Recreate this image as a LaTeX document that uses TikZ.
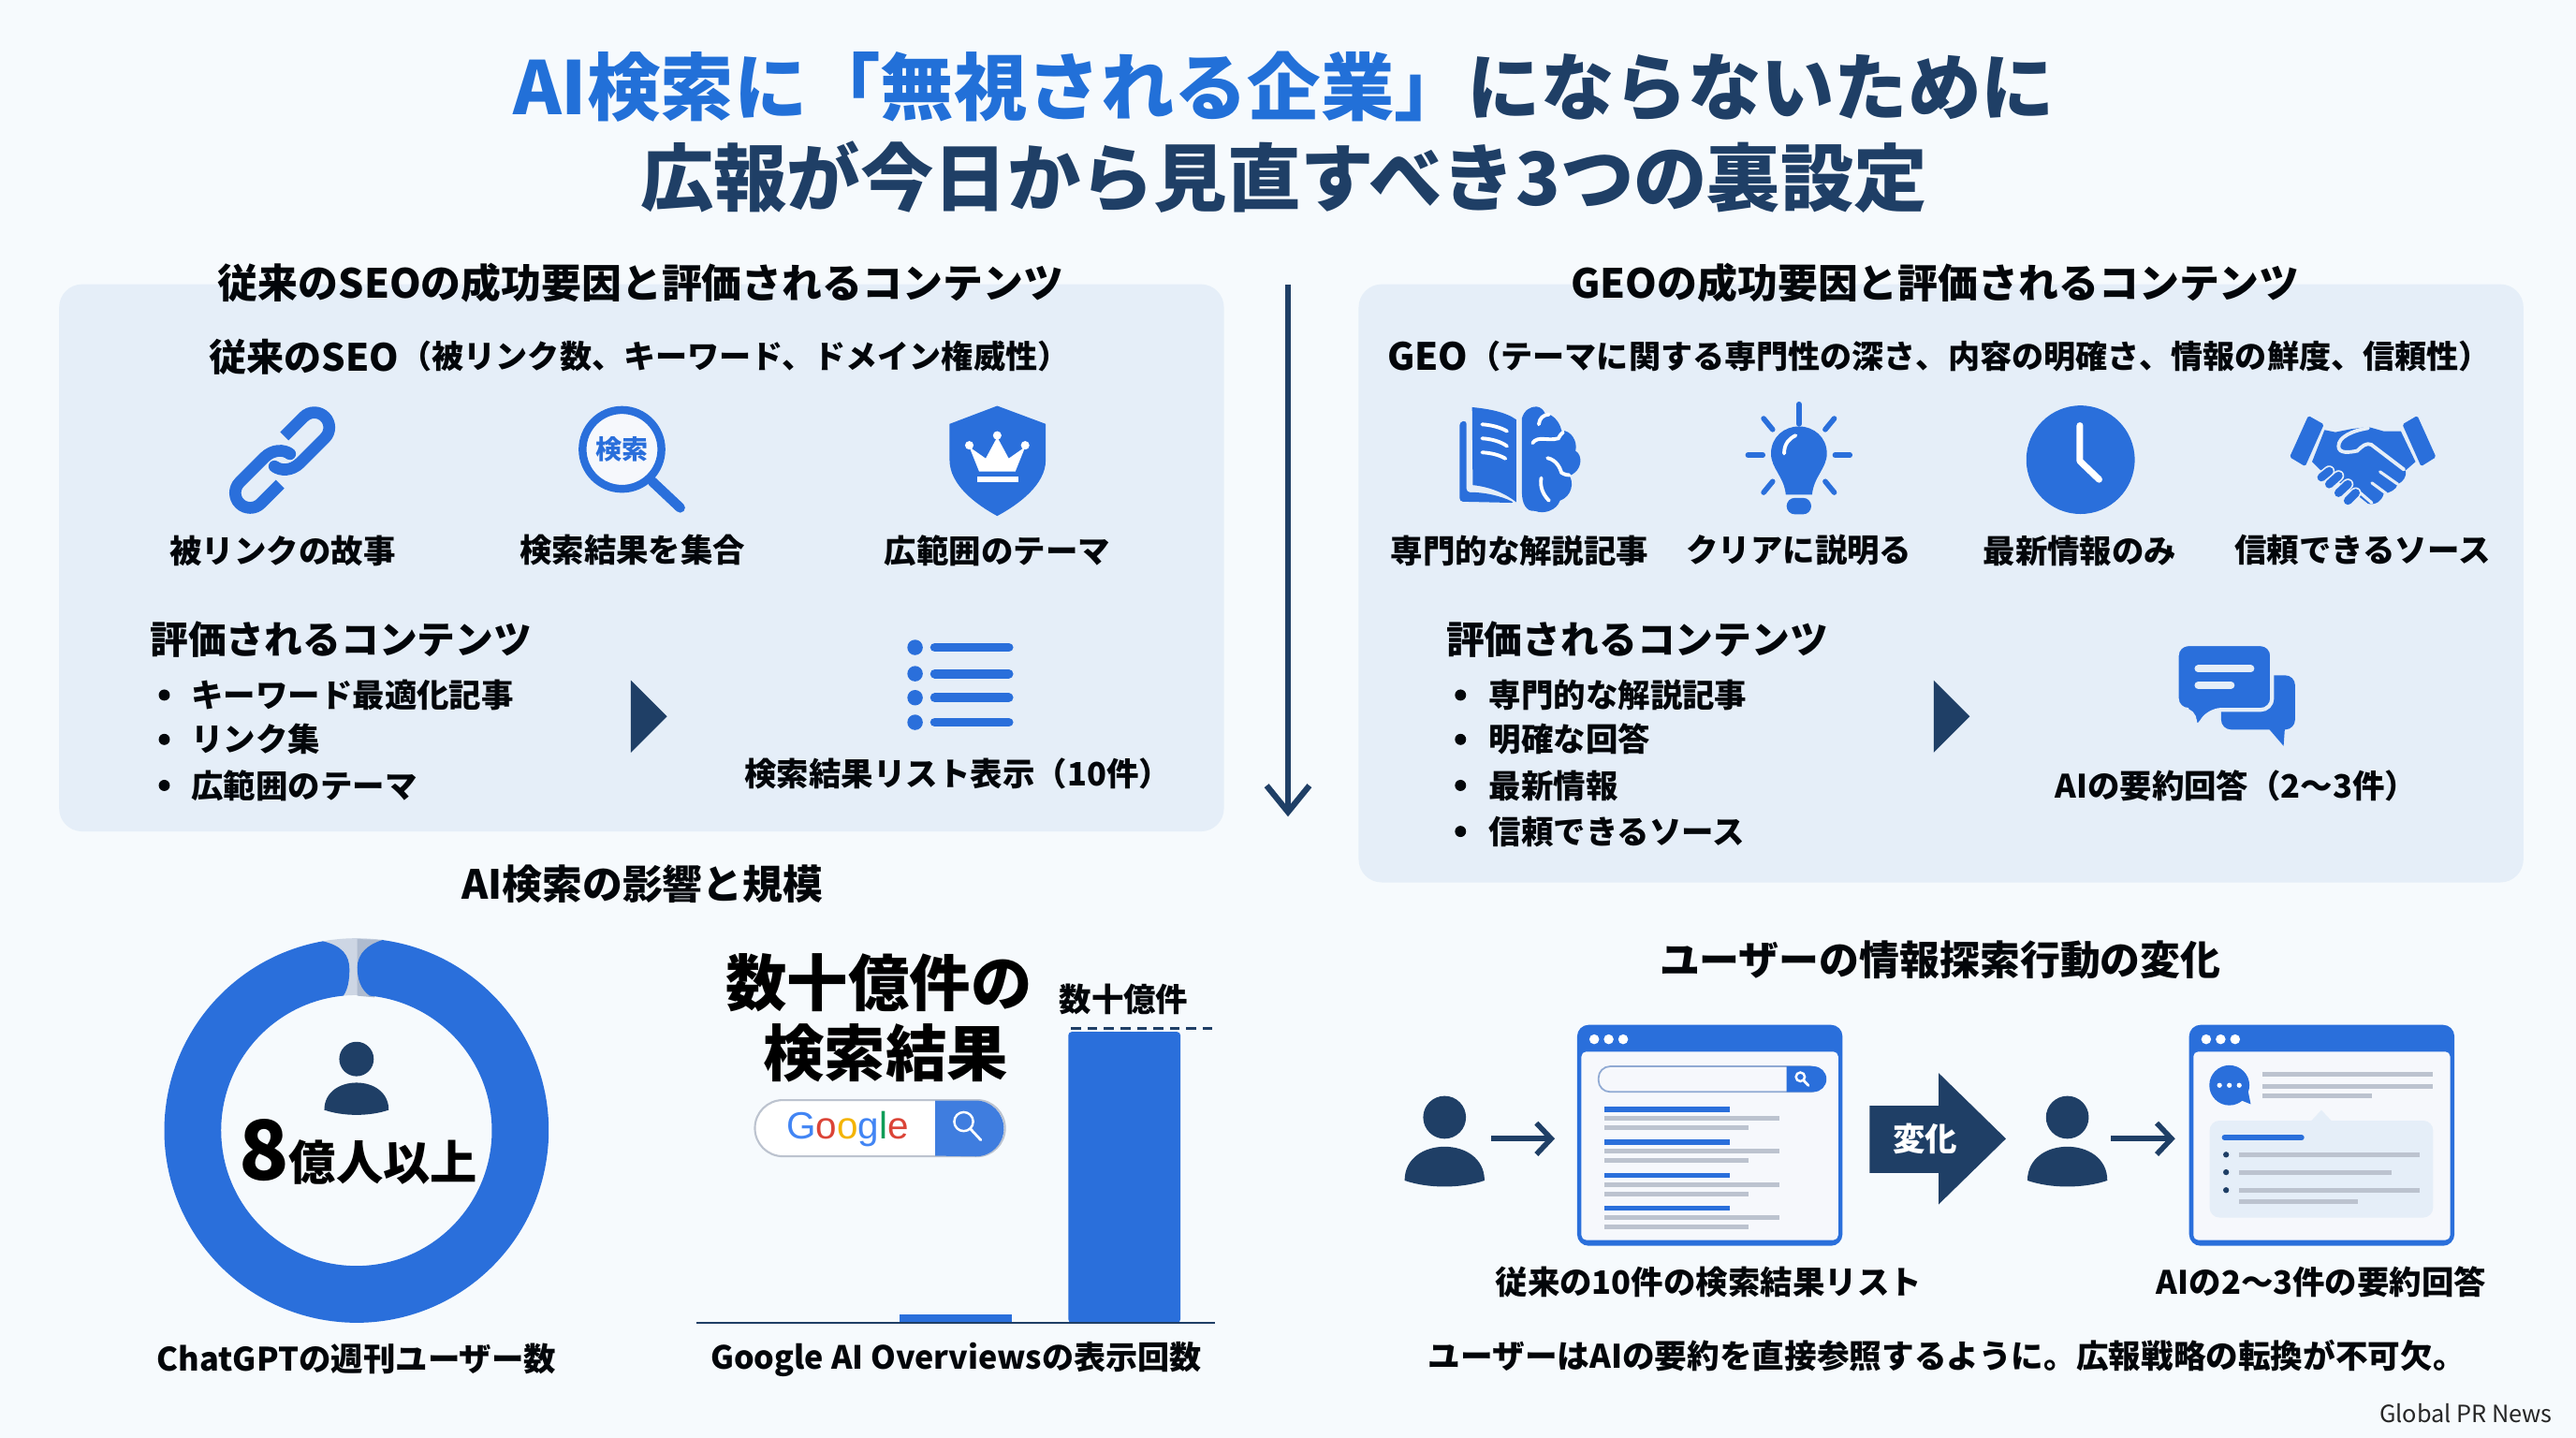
\documentclass[tikz,border=0pt]{standalone}
\usepackage{fontspec}
\setmainfont{Noto Sans CJK JP}
\newfontfamily\googlefont{Liberation Sans}
\usetikzlibrary{arrows.meta}
\definecolor{bluec}{HTML}{2A6FDB}
\definecolor{titleblue}{HTML}{2270D8}
\definecolor{navyc}{HTML}{1F3F66}
\definecolor{panelc}{HTML}{E5EEF8}
\definecolor{pagec}{HTML}{F6F8FC}
\definecolor{grayc}{HTML}{BCC3CF}
\definecolor{gapc}{HTML}{CDD6E4}
\definecolor{gapd}{HTML}{AEBBCF}
\definecolor{bgc}{HTML}{F6FAFD}

\tikzset{
  personpic/.pic={
    \fill [navyc] (0,0) circle (10.5);
    \fill [navyc] (-19.6,31) .. controls (-19.6,20) and (-10,14.4) .. (0,14.4)
      .. controls (10,14.4) and (19.6,20) .. (19.6,31)
      .. controls (8,35) and (-8,35) .. cycle;
  },
  lenspic/.pic={
    \draw [white, line width=0.7] (-1.5,-1.5) circle (3.6);
    \draw [white, line width=0.8, line cap=round] (1,1.2)--(5,5.5);
  },
  pagepic/.pic={
    \fill [bluec, rounded corners=3.5] (0,0) rectangle (161.5,134.5);
    \fill [pagec, rounded corners=1.5] (2.6,16.3) rectangle (158.9,131);
    \foreach \x in {10.4,19.2,28}
      \fill [white] (\x,8.8) circle (3);
  }
}

\begin{document}
\begin{tikzpicture}[x=0.017551cm, y=-0.017554cm,
  ttl/.style={font=\bfseries\fontsize{22.3}{26}\selectfont, navyc, inner sep=0},
  hd/.style={font=\bfseries\fontsize{12.2}{15}\selectfont, black!90!navyc, inner sep=0},
  lb/.style={font=\bfseries\fontsize{9.8}{12}\selectfont, black!90!navyc, inner sep=0},
  lft/.style={anchor=west},
  zoomed/.style={x=0.003334cm, y=-0.003334cm},
  linkst/.style={draw=bluec, line width=3.6},
  whiteln/.style={draw=white, line width=1.1, line cap=round},
  cutln/.style={draw=panelc, line width=0.9, line cap=round},
  graybar/.style={draw=grayc, line width=1.4},
  bluebar/.style={draw=bluec, line width=1.6},
  thinarrow/.style={draw=navyc, line width=1.6, -{Straight Barb[length=4.5,width=9.5]}},
  tri/.style={fill=navyc}]

\useasboundingbox (0,0) rectangle (1568,875);
\fill [bgc] (0,0) rectangle (1568,875);

% title
\node [ttl] (t1) at (781.5,53) {\textcolor{titleblue}{AI検索に「無視される企業」}にならないために};
\node [ttl] (t2) at (781.5,108) {広報が今日から見直すべき3つの裏設定};

% panels
\fill [panelc, rounded corners=7] (36,173) rectangle (745,506);
\fill [panelc, rounded corners=7] (827,173) rectangle (1536,537);

% divider
\coordinate (V1) at (784,173);
\coordinate (V2) at (784,497);
\draw [navyc, line width=1.8, -{Straight Barb[length=8,width=13]}] (V1)--(V2);

% left panel
\node [hd] (h1) at (390,172) {従来のSEOの成功要因と評価されるコンテンツ};
\node [hd, lft, font=\bfseries\fontsize{11.4}{14}\selectfont] (s1) at (127,217) {従来のSEO};
\node [lb, lft, font=\bfseries\fontsize{9.7}{12}\selectfont] (s1b) at (s1.east) {（被リンク数、キーワード、ドメイン権威性）};

% link icon
\begin{scope}[shift={(131.05,239.3)}, zoomed]
\draw [linkst] (222,138)--(284,76) arc [start angle=-135,end angle=45,radius=48]
  --(272,224) .. controls (245,250) and (210,250) .. (190,235);
\fill [bluec] (190,235) circle (19);
\draw [linkst] (208,292)--(146,354) arc [start angle=45,end angle=225,radius=48]
  --(158,206) .. controls (185,180) and (220,180) .. (240,195);
\fill [bluec] (240,195) circle (19);
\end{scope}

% search icon
\fill [pagec] (378.6,273.5) circle (24);
\draw [bluec, line width=2.4] (378.6,273.5) circle (24);
\draw [bluec, line width=3, line cap=round] (397,293)--(414,309);
\node [font=\bfseries\fontsize{8}{10}\selectfont, bluec, inner sep=0] (srch) at (378.6,273.5) {検索};

% shield icon
\fill [bluec] (607,247)--(636.5,258)--(636.5,280) .. controls (636.5,295) and (620,307) .. (607,314)
  .. controls (594,307) and (578,295) .. (578,280)--(578,258)--cycle;
\fill [white] (596,287)--(618,287)--(624,272)--(614,279)--(607,266)--(600,279)--(590,272)--cycle;
\foreach \a/\b in {590/271,607/265,624/271}
  \fill [white] (\a,\b) circle (2.6);
\fill [white] (595,290) rectangle (620,293.5);

\node [lb] (l1) at (172,335) {被リンクの故事};
\node [lb] (l2) at (385,335) {検索結果を集合};
\node [lb] (l3) at (607,335) {広範囲のテーマ};

\node [hd, lft, font=\bfseries\fontsize{11.6}{14}\selectfont] (e1) at (91,389) {評価されるコンテンツ};
\foreach \y/\t/\n in {423/キーワード最適化記事/a,450/リンク集/b,478/広範囲のテーマ/c}{
  \fill [black!90!navyc] (100,\y) circle (3.4);
  \node [lb, lft] (e1\n) at (116,\y) {\t};
}
\fill [tri] (384,414)--(406,436)--(384,458)--cycle;

% list icon
\foreach \y in {394,410,424.6,439.6}{
  \fill [bluec] (557,\y) circle (4.7);
  \draw [bluec, line width=2.8, line cap=round] (569,\y)--(614,\y);
}
\node [lb] (l4) at (583,471) {検索結果リスト表示（10件）};

% right panel
\node [hd] (h2) at (1178,172) {GEOの成功要因と評価されるコンテンツ};
\node [hd, lft, font=\bfseries\fontsize{11.4}{14}\selectfont] (s2) at (844,217) {GEO};
\node [lb, lft, font=\bfseries\fontsize{9.7}{12}\selectfont] (s2b) at (s2.east) {（テーマに関する専門性の深さ、内容の明確さ、情報の鮮度、信頼性）};

% book and brain icon
\begin{scope}[shift={(877.5,239.3)}, zoomed]
\fill [bluec] (98,45) .. controls (150,50) and (205,60) .. (240,85)--(240,350)
  .. controls (200,318) and (150,300) .. (100,295)--cycle;
\fill [bluec, rounded corners=1] (58,92)--(80,88)--(80,318) .. controls (140,318) and (190,330) .. (235,352)--(58,348)--cycle;
\draw [whiteln] (130,100) .. controls (160,102) and (190,110) .. (210,122);
\draw [whiteln] (130,145) .. controls (160,147) and (190,155) .. (210,170);
\draw [whiteln] (130,190) .. controls (160,192) and (185,198) .. (205,210);
\fill [bluec] (258,80) .. controls (265,55) and (285,42) .. (305,43) .. controls (320,45) and (328,55) .. (332,65)
  .. controls (350,65) and (378,85) .. (385,120) .. controls (415,118) and (438,155) .. (430,185)
  .. controls (455,200) and (452,250) .. (410,265) .. controls (425,285) and (420,330) .. (380,345)
  .. controls (370,375) and (330,390) .. (300,378) .. controls (270,382) and (258,350) .. (258,320)--cycle;
\draw [whiteln] (312,100) .. controls (315,80) and (325,70) .. (345,68);
\draw [whiteln] (292,160) .. controls (310,135) and (340,155) .. (375,145) .. controls (380,135) and (385,130) .. (390,125);
\draw [whiteln] (340,208) .. controls (370,215) and (380,240) .. (385,255) .. controls (395,262) and (405,263) .. (410,263);
\draw [whiteln] (320,272) .. controls (315,300) and (325,325) .. (345,345);
\end{scope}

% bulb icon
\fill [bluec] (1087,301) .. controls (1086,290) and (1078,285) .. (1078,276)
  .. controls (1078,266) and (1086,259.5) .. (1095,259.5)
  .. controls (1104,259.5) and (1112,266) .. (1112,276)
  .. controls (1112,285) and (1104,290) .. (1103,301)--cycle;
\fill [bluec, rounded corners=2.5] (1087.5,303) rectangle (1102.5,313);
\draw [whiteln] (1086,276) .. controls (1086,270) and (1089,267) .. (1093,265);
\foreach \a/\b/\c/\d in {1095/246/1095/258,1073.5/254.7/1079/261.4,1116.5/254.7/1111/261.4,1064/277/1073/277,1126/277/1117/277,1073.5/299.7/1079/293,1116.5/299.7/1111/293}
  \draw [bluec, line width=1.6, line cap=round] (\a,\b)--(\c,\d);

% clock icon
\fill [bluec] (1266.4,279.8) circle (33);
\draw [white, line width=2, line cap=round, line join=round] (1266,259)--(1266,280.6)--(1277.7,291.8);

% handshake icon
\begin{scope}[shift={(1384.6,245)}, zoomed]
\fill [bluec, rounded corners=0.5] (108,42)--(158,70)--(98,205)--(48,175)--cycle;
\fill [bluec, rounded corners=0.5] (458,42)--(410,70)--(470,205)--(518,175)--cycle;
\fill [bluec] (160,88)--(195,95)--(245,85)--(300,78)--(350,92)--(405,92)--(452,190)--(420,218)
  .. controls (425,240) and (410,255) .. (395,262) .. controls (390,280) and (370,290) .. (350,292)
  .. controls (345,315) and (325,330) .. (300,325)--(250,285)--(145,215)--(120,190)--cycle;
\draw [panelc, line width=1.1, line cap=round] (300,82) .. controls (250,90) and (205,110) .. (205,140)
  .. controls (205,165) and (240,160) .. (265,155) .. controls (280,140) and (295,128) .. (310,135)--(415,215);
\draw [cutln] (338,222)--(395,262);
\draw [cutln] (312,258)--(358,292);
\draw [cutln] (275,290)--(312,322);
\foreach \a/\b/\c/\d in {150/240/175/220,175/262/205/235,205/290/235/262,235/315/260/290}{
  \draw [panelc, line width=3.4, line cap=round] (\a,\b)--(\c,\d);
  \draw [bluec, line width=2.5, line cap=round] (\a,\b)--(\c,\d);
}
\end{scope}

\node [lb] (r1) at (925,335) {専門的な解説記事};
\node [lb] (r2) at (1095,335) {クリアに説明る};
\node [lb] (r3) at (1266,335) {最新情報のみ};
\node [lb] (r4) at (1438,335) {信頼できるソース};

\node [hd, lft, font=\bfseries\fontsize{11.6}{14}\selectfont] (e2) at (880,389) {評価されるコンテンツ};
\foreach \y/\t/\n in {423/専門的な解説記事/a,450/明確な回答/b,478/最新情報/c,506/信頼できるソース/d}{
  \fill [black!90!navyc] (889,\y) circle (3.4);
  \node [lb, lft] (e2\n) at (906,\y) {\t};
}
\fill [tri] (1177,414)--(1199,436)--(1177,458)--cycle;

% chat icon
\fill [bluec, rounded corners=3] (1352,411) rectangle (1397,444);
\fill [bluec] (1378,440)--(1390,454)--(1391,440)--cycle;
\draw [panelc, line width=1.2, fill=bluec, rounded corners=3.5] (1325,392)--(1383,392)--(1383,432)--(1345,432)--(1336,445)--(1336,432)--(1325,432)--cycle;
\draw [panelc, line width=2.2, line cap=round] (1338,407)--(1370,407);
\draw [panelc, line width=2.2, line cap=round] (1338,417)--(1358,417);
\node [lb] (r5) at (1361,478) {AIの要約回答（2〜3件）};

% lower left
\node [hd] (h3) at (391,538) {AI検索の影響と規模};
\begin{scope}[shift={(217,688)}]
\fill [gapc] (-100.1:117) arc [start angle=-100.1,end angle=-82.2,radius=117]
  --(-84.4:82.4) arc [start angle=-84.4,end angle=-95.6,radius=82.4]--cycle;
\fill [gapd] (0.5,-116.5)--(16,-116)--(11,-81)--(0.5,-82)--cycle;
\fill [bluec] (-82.2:117) arc [start angle=-82.2,end angle=259.9,radius=117]
  .. controls (-9,-112.5) and (-4.3,-106.8) .. (-4.3,-98.2)
  .. controls (-4.3,-91.6) and (-5.2,-85.9) .. (264.4:82.4)
  arc [start angle=264.4,end angle=-84.4,radius=82.4]
  .. controls (2.4,-85.9) and (0.5,-92.5) .. (0.5,-99.2)
  .. controls (0.5,-107.7) and (7.1,-113.4) .. cycle;
\end{scope}
\pic at (217,644.5) {personpic};
\node [font=\bfseries\fontsize{14.3}{17}\selectfont, inner sep=0, black] (d1) at (218,701)
  {\fontsize{25}{28}\selectfont 8\fontsize{14.3}{17}\selectfont 億人以上};
\node [lb] (d2) at (217,827) {ChatGPTの週刊ユーザー数};

\node [font=\bfseries\fontsize{18.6}{22}\selectfont, black, inner sep=0] (b1) at (535,598) {数十億件の};
\node [font=\bfseries\fontsize{18.6}{22}\selectfont, black, inner sep=0] (b2) at (539,641) {検索結果};

% google bar
\draw [grayc, fill=white, line width=0.6, rounded corners=8.5] (459.5,669.5) rectangle (611.7,703.7);
\fill [bluec!90!white] (569.3,669.8)--(594,669.8) arc [start angle=-90,end angle=90,radius=17]--(569.3,703.4)--cycle;
\pic [scale=1.6] at (589,685) {lenspic};
\node [font=\googlefont\fontsize{11.5}{14}\selectfont, inner sep=0] (g1) at (516,687)
  {\textcolor[HTML]{4285F4}{G}\textcolor[HTML]{DB4437}{o}\textcolor[HTML]{F4B400}{o}\textcolor[HTML]{4285F4}{g}\textcolor[HTML]{0F9D58}{l}\textcolor[HTML]{DB4437}{e}};

% bars
\fill [bluec] (547.6,800.2) rectangle (616,805);
\fill [bluec, rounded corners=1] (650.3,628) rectangle (718.5,805);
\coordinate (B1) at (424,805);
\coordinate (B2) at (739.7,805);
\coordinate (B3) at (652,626);
\coordinate (B4) at (741,626);
\draw [navyc, line width=0.7] (B1)--(B2);
\draw [navyc, line width=0.7, densely dashed] (B3)--(B4);
\node [lb] (b3) at (684,608) {数十億件};
\node [lb, font=\bfseries\fontsize{9.7}{12}\selectfont] (b4) at (582,827) {Google AI Overviewsの表示回数};

% lower right
\node [hd] (h4) at (1181,584) {ユーザーの情報探索行動の変化};
\pic [scale=1.24] at (879.3,680) {personpic};
\pic [scale=1.24] at (1258.4,680) {personpic};
\coordinate (U1) at (907.7,693);
\coordinate (U2) at (946.4,693);
\coordinate (U3) at (1285,693);
\coordinate (U4) at (1324,693);
\draw [thinarrow] (U1)--(U2);
\draw [thinarrow] (U3)--(U4);

% result page
\pic at (960,623.7) {pagepic};
\draw [grayc!70!bluec, fill=pagec, line width=0.5, rounded corners=3.5] (973,649) rectangle (1109,664.5);
\fill [bluec] (1087.5,649)--(1104,649) arc [start angle=-90,end angle=90,radius=7.75]--(1087.5,664.5)--cycle;
\pic [scale=0.75] at (1097,656.5) {lenspic};
\foreach \y in {675,695,715.3,735.3}{
  \draw [bluebar] (976.5,\y)--(1053,\y);
  \draw [graybar] (976.5,\y+5.6)--(1083,\y+5.6);
  \draw [graybar] (976.5,\y+11.2)--(1064.6,\y+11.2);
}

% change arrow
\fill [navyc] (1138,673)--(1180,673)--(1180,653)--(1221,693)--(1180,733)--(1180,713.8)--(1138,713.8)--cycle;
\node [lb, white] (c1) at (1172,693) {変化};

% summary page
\pic at (1332.5,623.7) {pagepic};
\fill [bluec] (1357,660.5) circle (12.2);
\fill [bluec] (1360,668)--(1370,672)--(1368,662)--cycle;
\foreach \x in {1351,1357,1363}
  \fill [white] (\x,660.5) circle (1.5);
\draw [graybar] (1377,654)--(1481,654);
\draw [graybar] (1377,661)--(1481,661);
\draw [graybar] (1377,667)--(1444,667);
\fill [panelc, rounded corners=3] (1345,682) rectangle (1481,741);
\fill [panelc] (1406,683)--(1413,675.6)--(1420,683)--cycle;
\draw [bluebar, line cap=round] (1354,692.3)--(1401,692.3);
\foreach \y/\e in {702.7/1473,713.4/1456,724.3/1473}{
  \fill [navyc] (1355,\y) circle (1.8);
  \draw [graybar] (1363,\y)--(\e,\y);
}
\draw [graybar] (1363,731.5)--(1435,731.5);

\node [lb] (c2) at (1040,780) {従来の10件の検索結果リスト};
\node [lb] (c3) at (1413,780) {AIの2〜3件の要約回答};
\node [lb, font=\bfseries\fontsize{9.85}{12}\selectfont] (c4) at (1185,825) {ユーザーはAIの要約を直接参照するように。広報戦略の転換が不可欠。};
\node [font=\fontsize{7.2}{9}\selectfont, inner sep=0, anchor=east, black!85] (c5) at (1554,860) {Global PR News};
\end{tikzpicture}
\end{document}
